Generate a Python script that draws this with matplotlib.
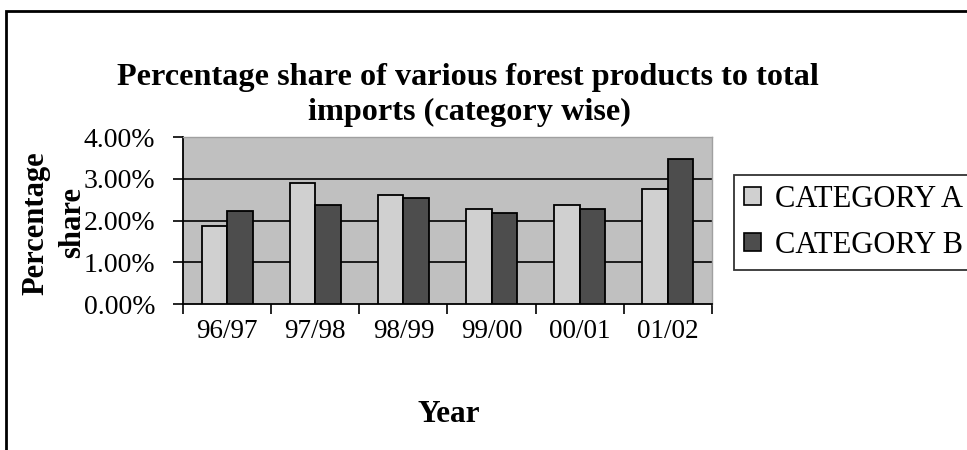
import matplotlib
matplotlib.use("Agg")
import matplotlib.pyplot as plt
import numpy as np
from matplotlib.patches import Rectangle, Patch

years = ["96/97", "97/98", "98/99", "99/00", "00/01", "01/02"]
category_a = [1.88, 2.90, 2.60, 2.27, 2.36, 2.75]
category_b = [2.23, 2.36, 2.55, 2.17, 2.27, 3.47]
y_ticks = [0, 1, 2, 3, 4]
y_tick_labels = ["0.00%", "1.00%", "2.00%", "3.00%", "4.00%"]
series_names = ["CATEGORY A", "CATEGORY B"]
title_lines = ["Percentage share of various forest products to total",
               "imports (category wise)"]
ylabel_lines = ["Percentage", "share"]
xlabel = "Year"

plt.rcParams["font.family"] = ["Liberation Serif", "DejaVu Serif"]

W, H = 967, 450
fig = plt.figure(figsize=(W / 100, H / 100), dpi=100)
fig.patch.set_facecolor("white")

# outer chart frame (left and top edges visible, rest runs past the canvas)
fig.add_artist(Rectangle((6 / W, -0.1), 1.2, 1 - 11 / H + 0.1,
                         transform=fig.transFigure, fill=False,
                         edgecolor="black", linewidth=2.0))

left, right, top, bottom = 183, 712, 137, 304
ax = fig.add_axes([left / W, 1 - bottom / H, (right - left) / W, (bottom - top) / H])
ax.set_facecolor("#c0c0c0")

x = np.arange(len(years))
bw = 0.29
ax.bar(x - bw / 2, category_a, width=bw, color="#d0d0d0", edgecolor="black",
       linewidth=1.3, zorder=3, label=series_names[0])
ax.bar(x + bw / 2, category_b, width=bw, color="#4d4d4d", edgecolor="black",
       linewidth=1.3, zorder=3, label=series_names[1])

ax.set_xlim(-0.5, len(years) - 0.5)
ax.set_ylim(0, 4)

# category boundaries carry the tick marks, centres carry the labels
ax.set_xticks(np.arange(len(years) + 1) - 0.5)
ax.set_xticklabels([])
ax.set_xticks(x, minor=True)
ax.set_xticklabels(years, minor=True, fontsize=19.5)
ax.tick_params(axis="x", which="major", direction="out", length=7, width=1.2)
ax.tick_params(axis="x", which="minor", length=0, pad=11)

ax.set_yticks(y_ticks)
ax.set_yticklabels(y_tick_labels, fontsize=20)
ax.tick_params(axis="y", direction="out", length=7, width=1.2, pad=13)

for v in y_ticks[1:-1]:
    ax.axhline(v, color="black", linewidth=1.2, zorder=1)

for s in ["left", "bottom"]:
    ax.spines[s].set_color("black")
    ax.spines[s].set_linewidth(1.3)
for s in ["top", "right"]:
    ax.spines[s].set_color("#a0a0a0")
    ax.spines[s].set_linewidth(1.0)

fig.text(468 / W, 1 - 78 / H, title_lines[0], ha="center", va="center",
         fontsize=23.2, fontweight="bold")
fig.text(469 / W, 1 - 112 / H, title_lines[1], ha="center", va="center",
         fontsize=23.2, fontweight="bold")

fig.text(36 / W, 1 - 223 / H, ylabel_lines[0], rotation=90,
         ha="center", va="center", fontsize=22, fontweight="bold")
fig.text(73 / W, 1 - 222 / H, ylabel_lines[1], rotation=90,
         ha="center", va="center", fontsize=22, fontweight="bold")

fig.text(449 / W, 1 - 415 / H, xlabel, ha="center", va="center",
         fontsize=22.5, fontweight="bold")

handles = [Patch(facecolor="#d0d0d0", edgecolor="black", linewidth=1.2),
           Patch(facecolor="#4d4d4d", edgecolor="black", linewidth=1.2)]
leg = fig.legend(handles, series_names, loc="upper left",
                 bbox_to_anchor=(734 / W, 1 - 175 / H),
                 fontsize=22, frameon=True, fancybox=False,
                 handlelength=0.55, handleheight=0.55, handletextpad=0.45,
                 borderpad=0.33, labelspacing=0.55, borderaxespad=0)
leg.get_frame().set_edgecolor("black")
leg.get_frame().set_linewidth(1.3)

fig.savefig("out.png", dpi=100)
